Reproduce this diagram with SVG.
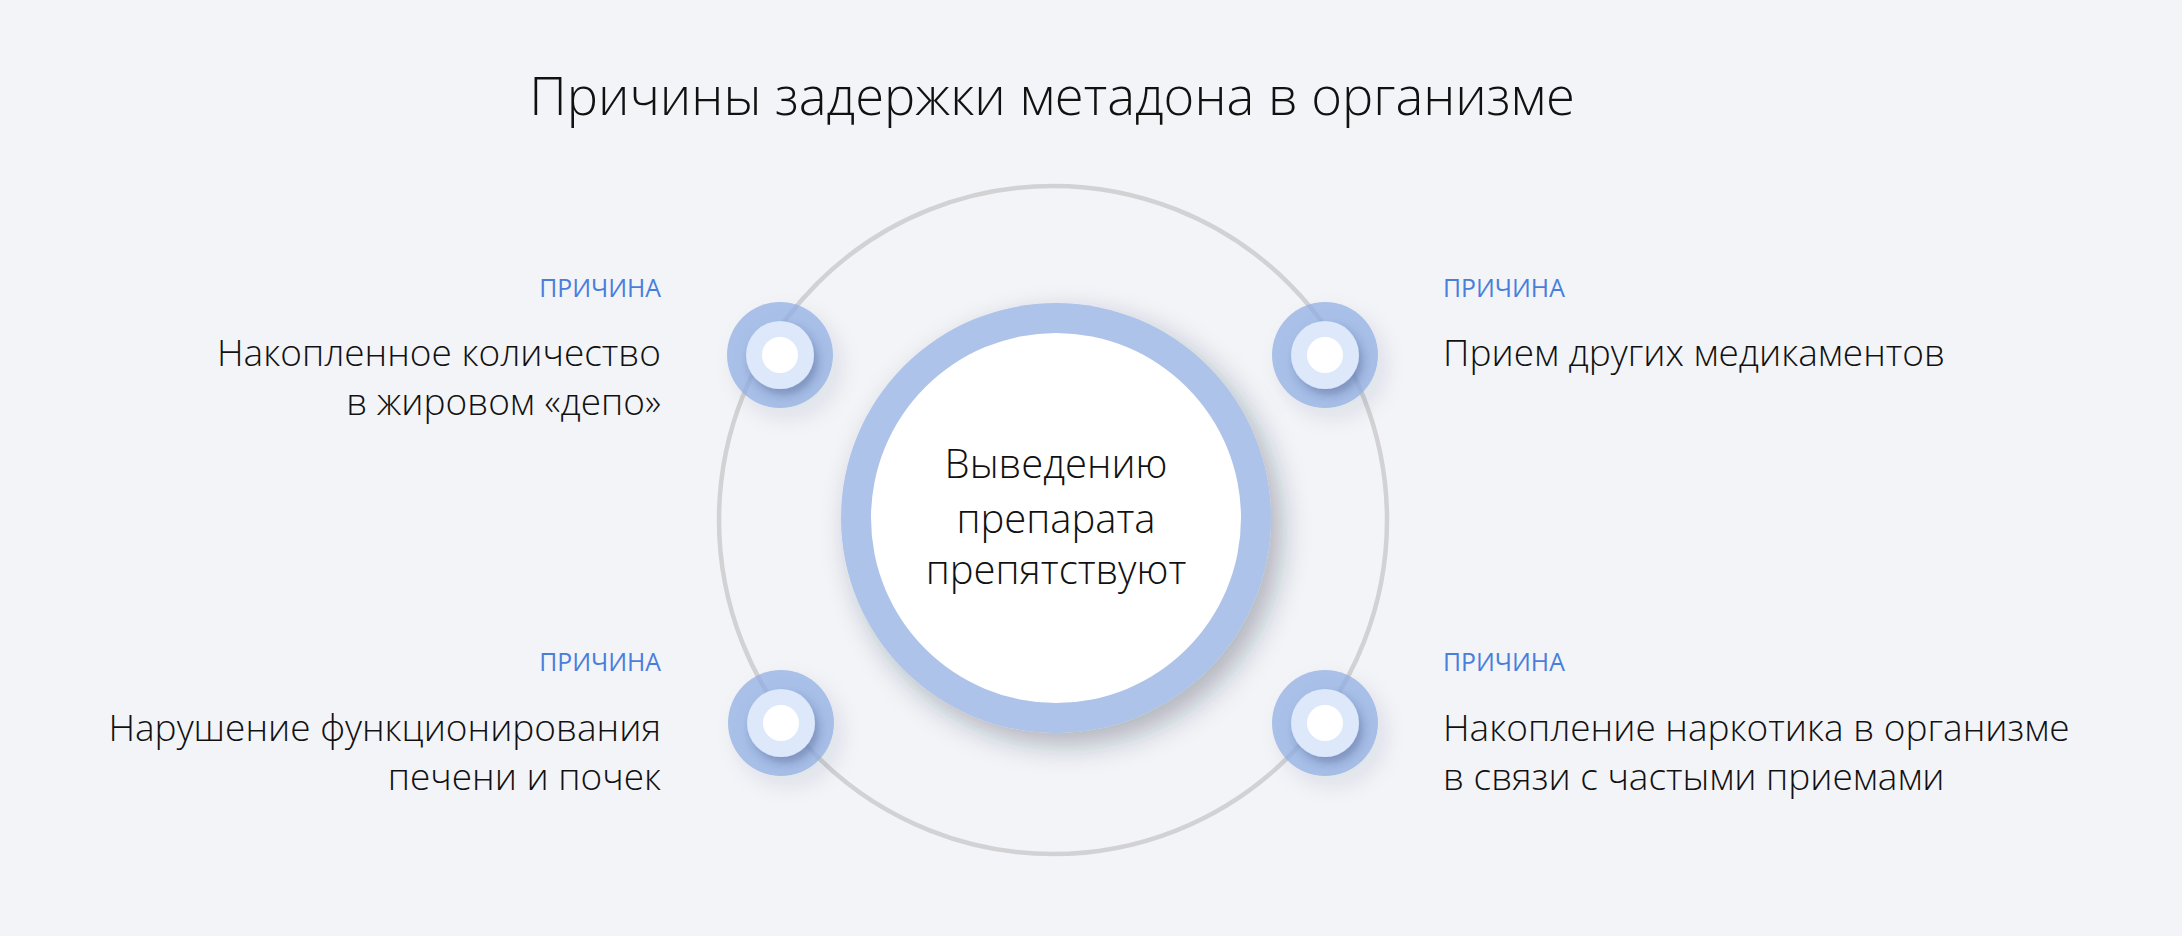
<svg xmlns="http://www.w3.org/2000/svg" width="2182" height="936" viewBox="0 0 2182 936">
<style>
.t{font-family:"Open Sans","Liberation Sans",sans-serif;font-weight:300;fill:#111;}
.title{font-size:52.5px;}
.lbl{font-size:37px;}
.ctr{font-size:40px;}
.tag{font-family:"Open Sans","Liberation Sans",sans-serif;font-weight:400;font-size:24.8px;fill:#4a7edb;}
.ring{fill:none;stroke:#d2d2d4;stroke-width:4.5;}
.outer{fill:#8fade3;fill-opacity:0.72;}
.mid{fill:#dde8fb;}
.dot{fill:#ffffff;}
</style>
<defs>
<filter id="bigShadow" x="-30%" y="-30%" width="170%" height="170%">
<feDropShadow dx="10" dy="12" stdDeviation="14" flood-color="#1a2540" flood-opacity="0.32"/>
</filter>
<filter id="nodeShadow" x="-50%" y="-50%" width="220%" height="220%">
<feDropShadow dx="8" dy="10" stdDeviation="10" flood-color="#1a2540" flood-opacity="0.13"/>
</filter>
<filter id="midShadow" x="-50%" y="-50%" width="220%" height="220%">
<feDropShadow dx="4" dy="6" stdDeviation="4" flood-color="#2a3f70" flood-opacity="0.32"/>
</filter>
</defs>
<rect width="2182" height="936" fill="#f3f4f8"/>
<text class="t title" x="1052" y="115" text-anchor="middle">Причины задержки метадона в организме</text>
<g id="connectors">
<circle class="ring" cx="1053" cy="520" r="334"/>
</g>
<g id="center">
<circle cx="1056" cy="518" r="215" fill="#aec3ea" filter="url(#bigShadow)"/>
<circle cx="1056" cy="518" r="185" fill="#ffffff"/>
<text class="t ctr" text-anchor="middle"><tspan x="1056" y="478">Выведению</tspan><tspan x="1056" y="533">препарата</tspan><tspan x="1056" y="584">препятствуют</tspan></text>
</g>
<g id="node-tl">
<circle class="outer" cx="780" cy="355" r="53" filter="url(#nodeShadow)"/>
<circle class="mid" cx="780" cy="355" r="34" filter="url(#midShadow)"/>
<circle class="dot" cx="780" cy="355" r="18"/>
<text class="tag" x="661" y="297" text-anchor="end">ПРИЧИНА</text>
<text class="t lbl" text-anchor="end"><tspan x="661" y="366">Накопленное количество</tspan><tspan x="661" y="415">в жировом «депо»</tspan></text>
</g>
<g id="node-tr">
<circle class="outer" cx="1325" cy="355" r="53" filter="url(#nodeShadow)"/>
<circle class="mid" cx="1325" cy="355" r="34" filter="url(#midShadow)"/>
<circle class="dot" cx="1325" cy="355" r="18"/>
<text class="tag" x="1443" y="297">ПРИЧИНА</text>
<text class="t lbl" x="1443" y="366">Прием других медикаментов</text>
</g>
<g id="node-bl">
<circle class="outer" cx="781" cy="723" r="53" filter="url(#nodeShadow)"/>
<circle class="mid" cx="781" cy="723" r="34" filter="url(#midShadow)"/>
<circle class="dot" cx="781" cy="723" r="18"/>
<text class="tag" x="661" y="671" text-anchor="end">ПРИЧИНА</text>
<text class="t lbl" text-anchor="end"><tspan x="661" y="741">Нарушение функционирования</tspan><tspan x="661" y="790">печени и почек</tspan></text>
</g>
<g id="node-br">
<circle class="outer" cx="1325" cy="723" r="53" filter="url(#nodeShadow)"/>
<circle class="mid" cx="1325" cy="723" r="34" filter="url(#midShadow)"/>
<circle class="dot" cx="1325" cy="723" r="18"/>
<text class="tag" x="1443" y="671">ПРИЧИНА</text>
<text class="t lbl" text-anchor="start"><tspan x="1443" y="741">Накопление наркотика в организме</tspan><tspan x="1443" y="790">в связи с частыми приемами</tspan></text>
</g>
</svg>
